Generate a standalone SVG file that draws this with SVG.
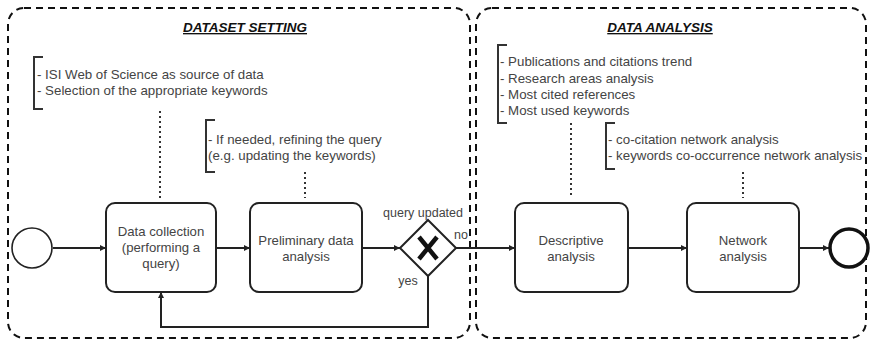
<svg xmlns="http://www.w3.org/2000/svg" width="870" height="345" viewBox="0 0 870 345">
<style>
.lane{fill:none;stroke:#111;stroke-width:2;stroke-dasharray:7,5}
.title{font-family:"Liberation Sans",Arial,sans-serif;font-size:13.5px;font-weight:bold;font-style:italic;fill:#111;text-decoration:underline;text-anchor:middle}
.task{fill:#fff;stroke:#222;stroke-width:2}
.lbl{font-family:"Liberation Sans",Arial,sans-serif;font-size:13.2px;fill:#444;text-anchor:middle}
.ann{font-family:"Liberation Sans",Arial,sans-serif;font-size:13.3px;fill:#444}
.br{fill:none;stroke:#333;stroke-width:2}
.dot{fill:none;stroke:#333;stroke-width:2;stroke-dasharray:2,3}
.flow{fill:none;stroke:#222;stroke-width:2;marker-end:url(#ah)}
.small{font-family:"Liberation Sans",Arial,sans-serif;font-size:12.5px;fill:#444}
</style>
<defs>
<marker id="ah" viewBox="0 0 10 10" refX="10" refY="5" markerWidth="6" markerHeight="6" markerUnits="userSpaceOnUse" orient="auto"><path d="M0,0L10,5L0,10z" fill="#222"/></marker>
</defs>
<g id="lane-dataset">
<rect class="lane" x="8" y="8" width="462" height="330" rx="16"/>
<text class="title" x="245" y="32">DATASET SETTING</text>
</g>
<g id="lane-analysis">
<rect class="lane" x="476" y="8" width="390" height="330" rx="16"/>
<text class="title" x="660" y="32">DATA ANALYSIS</text>
</g>
<g id="connectors">
<path class="flow" d="M53,248H106"/>
<path class="flow" d="M216,248H250"/>
<path class="flow" d="M362,248H400"/>
<path class="flow" d="M456,248H515"/>
<path class="flow" d="M628,248H687"/>
<path class="flow" d="M799,248H829"/>
<path class="flow" d="M428,276V327H161V292"/>
<path class="dot" d="M160,111V198"/>
<path class="dot" d="M305,172V198"/>
<path class="dot" d="M571,123V198"/>
<path class="dot" d="M743,172V198"/>
<text class="small" x="423" y="217" text-anchor="middle">query updated</text>
<text class="small" x="461" y="239" text-anchor="middle">no</text>
<text class="small" x="408" y="285" text-anchor="middle">yes</text>
</g>
<g id="start">
<circle cx="32" cy="248" r="20" fill="#fff" stroke="#222" stroke-width="1.6"/>
</g>
<g id="data-collection">
<rect class="task" x="106" y="203" width="110" height="89" rx="9"/>
<text class="lbl" x="161" y="236">Data collection</text>
<text class="lbl" x="161" y="252">(performing a</text>
<text class="lbl" x="161" y="268">query)</text>
</g>
<g id="preliminary">
<rect class="task" x="250" y="203" width="112" height="89" rx="9"/>
<text class="lbl" x="306" y="245">Preliminary data</text>
<text class="lbl" x="306" y="261">analysis</text>
</g>
<g id="gateway">
<path d="M428,220L456,248L428,276L400,248z" fill="#fff" stroke="#222" stroke-width="2"/>
<path d="M419,237L437,259M437,237L419,259" stroke="#111" stroke-width="4.5" stroke-linecap="butt"/>
</g>
<g id="descriptive">
<rect class="task" x="515" y="203" width="113" height="89" rx="9"/>
<text class="lbl" x="571" y="245">Descriptive</text>
<text class="lbl" x="571" y="261">analysis</text>
</g>
<g id="network">
<rect class="task" x="687" y="203" width="112" height="89" rx="9"/>
<text class="lbl" x="743" y="245">Network</text>
<text class="lbl" x="743" y="261">analysis</text>
</g>
<g id="end">
<circle cx="849" cy="248" r="19" fill="#fff" stroke="#111" stroke-width="3.5"/>
</g>
<g id="ann-source">
<path class="br" d="M43,57H34V109H43"/>
<text class="ann" x="37" y="79">- ISI Web of Science as source of data</text>
<text class="ann" x="37" y="95">- Selection of the appropriate keywords</text>
</g>
<g id="ann-refine">
<path class="br" d="M215,120H206V172H215"/>
<text class="ann" x="208" y="144">- If needed, refining the query</text>
<text class="ann" x="208" y="160">(e.g. updating the keywords)</text>
</g>
<g id="ann-descriptive">
<path class="br" d="M507,45H498V123H507"/>
<text class="ann" x="500" y="66">- Publications and citations trend</text>
<text class="ann" x="500" y="83">- Research areas analysis</text>
<text class="ann" x="500" y="99">- Most cited references</text>
<text class="ann" x="500" y="115">- Most used keywords</text>
</g>
<g id="ann-network">
<path class="br" d="M615,123H606V169H615"/>
<text class="ann" x="608" y="144">- co-citation network analysis</text>
<text class="ann" x="608" y="160">- keywords co-occurrence network analysis</text>
</g>
</svg>
